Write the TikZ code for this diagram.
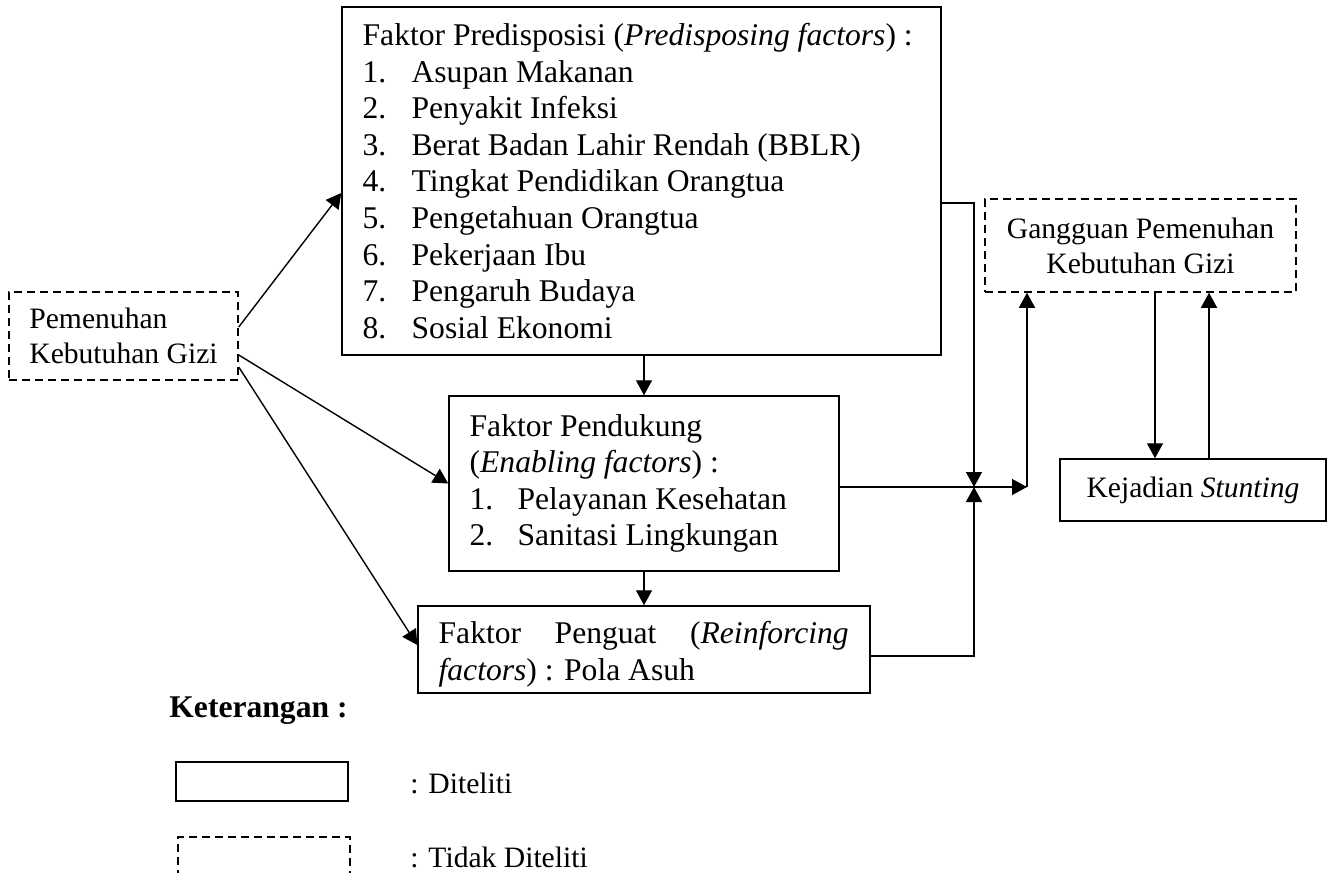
\documentclass[tikz,border=0pt]{standalone}
\usepackage{fontspec}
\setmainfont{Liberation Serif}
\usetikzlibrary{arrows.meta,calc}
\begin{document}
\begin{tikzpicture}[x=0.5pt,y=-0.5pt,
  box/.style={draw,line width=0.75pt,inner sep=0pt},
  dbox/.style={box,dash pattern=on 4pt off 2.5pt},
  txt/.style={font=\fontsize{15.8}{18.3}\selectfont,inner sep=0pt,align=left},
  stxt/.style={txt,font=\fontsize{14.8}{17.5}\selectfont},
  arr/.style={line width=0.7pt,-{Triangle[length=7.5pt,width=8pt]}}]
\useasboundingbox (0,0) rectangle (1329,873);
% boxes
\node[box,minimum width=299.5pt,minimum height=174pt] (P) at (641.5,181) {};
\node[txt,anchor=west] (Pt) at ([xshift=10.5pt]P.west) {Faktor Predisposisi (\textit{Predisposing factors}) :\\
\makebox[24.5pt][l]{1.}Asupan Makanan\\
\makebox[24.5pt][l]{2.}Penyakit Infeksi\\
\makebox[24.5pt][l]{3.}Berat Badan Lahir Rendah (BBLR)\\
\makebox[24.5pt][l]{4.}Tingkat Pendidikan Orangtua\\
\makebox[24.5pt][l]{5.}Pengetahuan Orangtua\\
\makebox[24.5pt][l]{6.}Pekerjaan Ibu\\
\makebox[24.5pt][l]{7.}Pengaruh Budaya\\
\makebox[24.5pt][l]{8.}Sosial Ekonomi};
\node[box,minimum width=195pt,minimum height=87.5pt] (E) at (644,483.5) {};
\node[txt,anchor=west] (Et) at ([xshift=10.5pt]E.west) {Faktor Pendukung\\
(\textit{Enabling factors}) :\\
\makebox[24pt][l]{1.}Pelayanan Kesehatan\\
\makebox[24pt][l]{2.}Sanitasi Lingkungan};
\node[box,minimum width=226pt,minimum height=43.5pt] (R) at (644,649.5) {};
\node[txt,anchor=west,text width=205pt,align=justify] (Rt) at ([xshift=10.5pt,yshift=-2.5pt]R.west) {Faktor Penguat (\textit{Reinforcing}\linebreak \textit{factors}) : Pola Asuh};
\node[dbox,stxt,minimum width=114.5pt,minimum height=44pt] (L) at (123.5,336) {Pemenuhan\\Kebutuhan Gizi};
\node[dbox,stxt,align=center,minimum width=155.5pt,minimum height=46.5pt] (G) at (1140.5,245.5) {Gangguan Pemenuhan\\Kebutuhan Gizi};
\node[box,stxt,minimum width=133pt,minimum height=31pt] (K) at (1193,490) {Kejadian \textit{Stunting}};
% connectors
\draw[arr] ([yshift=4.5pt]L.east) -- ([yshift=-6pt]P.west);
\draw[arr] ([yshift=-9.5pt]L.east) -- (E.west);
\draw[arr] ([yshift=-15.5pt]L.east) -- ([yshift=2.25pt]R.west);
\draw[arr] (E.north |- P.south) -- (E.north);
\draw[arr] (E.south) -- (R.north);
\coordinate (J) at (974,487);
\coordinate (J2) at (1027,487);
\draw[arr] ([yshift=-11pt]P.east) -| (J);
\draw[arr] ([yshift=-3.25pt]R.east) -| (J);
\draw[arr] (E.east |- J2) -- (J2);
\draw[arr] (J2) -- (J2 |- G.south);
\draw[arr] ([xshift=7.25pt]G.south) -- ([xshift=7.25pt]G.south |- K.north);
\draw[arr] ([xshift=8pt]K.north) -- ([xshift=8pt]K.north |- G.south);
% legend
\node[txt,anchor=base west,font=\fontsize{15.8}{18.3}\selectfont\bfseries] (Ket) at (169,717) {Keterangan :};
\node[box,minimum width=86pt,minimum height=19.5pt] (S) at (262,781.5) {};
\begin{scope}
\clip (0,0) rectangle (1329,873);
\node[dbox,minimum width=86pt,minimum height=19.5pt] (D) at (264,856.5) {};
\end{scope}
\node[stxt,anchor=base west] (St) at (410,793) {: Diteliti};
\node[stxt,anchor=base west] (Dt) at (410,867) {: Tidak Diteliti};
\end{tikzpicture}
\end{document}
